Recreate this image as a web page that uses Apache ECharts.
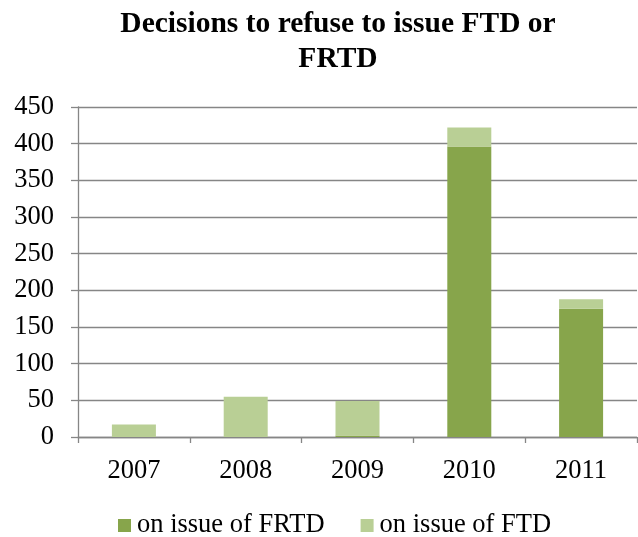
<!DOCTYPE html>
<html>
<head>
<meta charset="utf-8">
<script src="https://cdn.jsdelivr.net/npm/echarts@6/dist/echarts.min.js"></script>
<style>
  html, body { margin: 0; padding: 0; background: #fff; }
  #chart { width: 638px; height: 537px; }
</style>
</head>
<body>
<div id="chart"></div>
<script>
// 年份与两类决定数量
var years = ["2007", "2008", "2009", "2010", "2011"];
var frtdValues = [0, 0, 2, 396, 175];
var ftdValues = [17, 55, 47, 26, 13];
var yTicks = [0, 50, 100, 150, 200, 250, 300, 350, 400, 450];

var serif = "'Liberation Serif', 'Times New Roman', serif";
var gray = "#868686";

var chart = echarts.init(document.getElementById("chart"));
chart.setOption({
  animation: false,
  title: {
    text: "Decisions to refuse to issue FTD or\nFRTD",
    left: 333,
    textAlign: "center",
    top: 2,
    textStyle: {
      fontFamily: serif,
      fontWeight: "bold",
      fontSize: 29.5,
      lineHeight: 35,
      color: "#000"
    }
  },
  legend: {
    top: 512,
    left: 118,
    padding: 0,
    itemWidth: 13,
    itemHeight: 13,
    itemGap: 36,
    icon: "rect",
    data: ["on issue of FRTD", "on issue of FTD"],
    textStyle: { fontFamily: serif, fontSize: 26.5, color: "#000", padding: [0, 0, 0, 1] }
  },
  grid: {
    left: 78,
    right: 1,
    top: 107,
    bottom: 100,
    containLabel: false
  },
  xAxis: {
    type: "category",
    data: years,
    axisLine: { lineStyle: { color: gray, width: 1.3 } },
    axisTick: { show: true, length: 6, lineStyle: { color: gray, width: 1.3 } },
    axisLabel: {
      margin: 21,
      fontFamily: serif,
      fontSize: 26.5,
      color: "#000"
    }
  },
  yAxis: {
    type: "value",
    min: 0,
    max: yTicks[yTicks.length - 1],
    interval: 50,
    axisLine: { show: true, lineStyle: { color: gray, width: 1.3 } },
    axisTick: { show: true, length: 7, lineStyle: { color: gray, width: 1.3 } },
    splitLine: { show: true, lineStyle: { color: gray, width: 1.3 } },
    axisLabel: {
      margin: 24,
      fontFamily: serif,
      fontSize: 26.5,
      color: "#000"
    }
  },
  series: [
    {
      name: "on issue of FRTD",
      type: "bar",
      stack: "total",
      barWidth: 44,
      itemStyle: { color: "#87A54B" },
      data: frtdValues
    },
    {
      name: "on issue of FTD",
      type: "bar",
      stack: "total",
      barWidth: 44,
      itemStyle: { color: "#B9CF95" },
      data: ftdValues
    }
  ]
});
</script>
</body>
</html>
